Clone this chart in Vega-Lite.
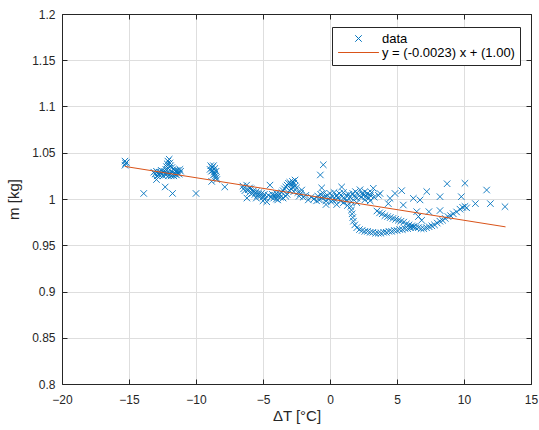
{
  "$schema": "https://vega.github.io/schema/vega-lite/v6.json",
  "width": 469,
  "height": 370,
  "autosize": {"type": "none"},
  "padding": {"left": 62, "top": 14, "right": 8, "bottom": 46},
  "background": "white",
  "config": {
    "view": {"stroke": null},
    "font": "Liberation Sans",
    "axis": {
      "domainColor": "#262626",
      "domainWidth": 1,
      "tickColor": "#262626",
      "tickWidth": 1,
      "tickSize": -5,
      "labelColor": "#262626",
      "titleColor": "#262626",
      "labelFont": "Liberation Sans",
      "titleFont": "Liberation Sans",
      "labelFontSize": 12,
      "titleFontSize": 15,
      "titleFontWeight": "normal",
      "gridColor": "#dedede",
      "gridWidth": 1,
      "labelFlush": false,
      "labelOverlap": false
    }
  },
  "layer": [
    {
      "data": {
        "values": [
          {"dT": -15.3, "m": 1.041, "series": "data"},
          {"dT": -15.25, "m": 1.0385, "series": "data"},
          {"dT": -15.3, "m": 1.0365, "series": "data"},
          {"dT": -15.2, "m": 1.0395, "series": "data"},
          {"dT": -13.9, "m": 1.006, "series": "data"},
          {"dT": -12.95, "m": 1.021, "series": "data"},
          {"dT": -12.3, "m": 1.013, "series": "data"},
          {"dT": -11.75, "m": 1.006, "series": "data"},
          {"dT": -10.0, "m": 1.006, "series": "data"},
          {"dT": -13.15, "m": 1.029, "series": "data"},
          {"dT": -13.05, "m": 1.027, "series": "data"},
          {"dT": -12.95, "m": 1.03, "series": "data"},
          {"dT": -12.85, "m": 1.028, "series": "data"},
          {"dT": -12.75, "m": 1.026, "series": "data"},
          {"dT": -12.65, "m": 1.029, "series": "data"},
          {"dT": -12.55, "m": 1.027, "series": "data"},
          {"dT": -12.45, "m": 1.025, "series": "data"},
          {"dT": -12.35, "m": 1.028, "series": "data"},
          {"dT": -12.25, "m": 1.026, "series": "data"},
          {"dT": -12.15, "m": 1.028, "series": "data"},
          {"dT": -12.05, "m": 1.025, "series": "data"},
          {"dT": -11.95, "m": 1.027, "series": "data"},
          {"dT": -11.85, "m": 1.025, "series": "data"},
          {"dT": -11.75, "m": 1.026, "series": "data"},
          {"dT": -11.65, "m": 1.025, "series": "data"},
          {"dT": -11.55, "m": 1.027, "series": "data"},
          {"dT": -11.45, "m": 1.026, "series": "data"},
          {"dT": -11.35, "m": 1.028, "series": "data"},
          {"dT": -11.25, "m": 1.027, "series": "data"},
          {"dT": -11.15, "m": 1.03, "series": "data"},
          {"dT": -11.2, "m": 1.032, "series": "data"},
          {"dT": -12.25, "m": 1.032, "series": "data"},
          {"dT": -12.2, "m": 1.035, "series": "data"},
          {"dT": -12.15, "m": 1.038, "series": "data"},
          {"dT": -12.1, "m": 1.041, "series": "data"},
          {"dT": -12.0, "m": 1.043, "series": "data"},
          {"dT": -11.95, "m": 1.039, "series": "data"},
          {"dT": -11.9, "m": 1.036, "series": "data"},
          {"dT": -11.8, "m": 1.034, "series": "data"},
          {"dT": -11.7, "m": 1.032, "series": "data"},
          {"dT": -11.6, "m": 1.031, "series": "data"},
          {"dT": -11.5, "m": 1.03, "series": "data"},
          {"dT": -12.05, "m": 1.033, "series": "data"},
          {"dT": -11.85, "m": 1.03, "series": "data"},
          {"dT": -12.6, "m": 1.031, "series": "data"},
          {"dT": -12.9, "m": 1.025, "series": "data"},
          {"dT": -12.4, "m": 1.03, "series": "data"},
          {"dT": -11.4, "m": 1.031, "series": "data"},
          {"dT": -8.9, "m": 1.036, "series": "data"},
          {"dT": -8.8, "m": 1.034, "series": "data"},
          {"dT": -8.7, "m": 1.036, "series": "data"},
          {"dT": -8.6, "m": 1.033, "series": "data"},
          {"dT": -8.75, "m": 1.031, "series": "data"},
          {"dT": -8.65, "m": 1.029, "series": "data"},
          {"dT": -8.6, "m": 1.027, "series": "data"},
          {"dT": -8.55, "m": 1.025, "series": "data"},
          {"dT": -8.5, "m": 1.023, "series": "data"},
          {"dT": -8.45, "m": 1.021, "series": "data"},
          {"dT": -8.7, "m": 1.026, "series": "data"},
          {"dT": -8.85, "m": 1.03, "series": "data"},
          {"dT": -8.83, "m": 1.019, "series": "data"},
          {"dT": -7.85, "m": 1.013, "series": "data"},
          {"dT": -8.95, "m": 1.032, "series": "data"},
          {"dT": -8.5, "m": 1.03, "series": "data"},
          {"dT": -6.5, "m": 1.014, "series": "data"},
          {"dT": -6.45, "m": 1.011, "series": "data"},
          {"dT": -6.35, "m": 1.009, "series": "data"},
          {"dT": -6.22, "m": 1.015, "series": "data"},
          {"dT": -6.2, "m": 1.001, "series": "data"},
          {"dT": -6.1, "m": 1.01, "series": "data"},
          {"dT": -6.0, "m": 1.007, "series": "data"},
          {"dT": -5.9, "m": 1.011, "series": "data"},
          {"dT": -5.8, "m": 1.006, "series": "data"},
          {"dT": -5.7, "m": 1.009, "series": "data"},
          {"dT": -5.6, "m": 1.005, "series": "data"},
          {"dT": -5.5, "m": 1.008, "series": "data"},
          {"dT": -5.4, "m": 1.004, "series": "data"},
          {"dT": -5.3, "m": 1.007, "series": "data"},
          {"dT": -5.2, "m": 1.003, "series": "data"},
          {"dT": -5.1, "m": 1.006, "series": "data"},
          {"dT": -5.0, "m": 1.002, "series": "data"},
          {"dT": -4.9, "m": 1.005, "series": "data"},
          {"dT": -4.8, "m": 1.001, "series": "data"},
          {"dT": -4.72, "m": 0.997, "series": "data"},
          {"dT": -4.6, "m": 1.004, "series": "data"},
          {"dT": -4.48, "m": 1.015, "series": "data"},
          {"dT": -4.4, "m": 1.002, "series": "data"},
          {"dT": -4.3, "m": 1.005, "series": "data"},
          {"dT": -4.2, "m": 1.001, "series": "data"},
          {"dT": -4.1, "m": 1.004, "series": "data"},
          {"dT": -4.0, "m": 1.0, "series": "data"},
          {"dT": -3.9, "m": 1.003, "series": "data"},
          {"dT": -3.8, "m": 1.006, "series": "data"},
          {"dT": -3.7, "m": 1.002, "series": "data"},
          {"dT": -3.6, "m": 1.007, "series": "data"},
          {"dT": -3.5, "m": 1.009, "series": "data"},
          {"dT": -3.4, "m": 1.011, "series": "data"},
          {"dT": -3.3, "m": 1.013, "series": "data"},
          {"dT": -3.2, "m": 1.015, "series": "data"},
          {"dT": -3.1, "m": 1.017, "series": "data"},
          {"dT": -3.0, "m": 1.018, "series": "data"},
          {"dT": -2.9, "m": 1.016, "series": "data"},
          {"dT": -2.8, "m": 1.019, "series": "data"},
          {"dT": -2.7, "m": 1.017, "series": "data"},
          {"dT": -2.61, "m": 1.0205, "series": "data"},
          {"dT": -2.6, "m": 1.014, "series": "data"},
          {"dT": -3.0, "m": 1.009, "series": "data"},
          {"dT": -3.2, "m": 1.005, "series": "data"},
          {"dT": -2.9, "m": 1.011, "series": "data"},
          {"dT": -2.8, "m": 1.013, "series": "data"},
          {"dT": -2.7, "m": 1.008, "series": "data"},
          {"dT": -2.5, "m": 1.012, "series": "data"},
          {"dT": -2.4, "m": 1.007, "series": "data"},
          {"dT": -2.3, "m": 1.003, "series": "data"},
          {"dT": -2.2, "m": 1.006, "series": "data"},
          {"dT": -2.11, "m": 1.0097, "series": "data"},
          {"dT": -2.0, "m": 1.002, "series": "data"},
          {"dT": -1.8, "m": 1.004, "series": "data"},
          {"dT": -1.62, "m": 0.999, "series": "data"},
          {"dT": -1.4, "m": 1.002, "series": "data"},
          {"dT": -1.2, "m": 1.0, "series": "data"},
          {"dT": -1.0, "m": 0.998, "series": "data"},
          {"dT": -3.5, "m": 1.001, "series": "data"},
          {"dT": -3.9, "m": 0.999, "series": "data"},
          {"dT": -3.3, "m": 1.003, "series": "data"},
          {"dT": -5.5, "m": 1.001, "series": "data"},
          {"dT": -5.0, "m": 0.998, "series": "data"},
          {"dT": -4.0, "m": 1.006, "series": "data"},
          {"dT": -6.0, "m": 1.012, "series": "data"},
          {"dT": -0.5, "m": 1.037, "series": "data"},
          {"dT": -0.72, "m": 1.026, "series": "data"},
          {"dT": -0.62, "m": 1.012, "series": "data"},
          {"dT": -0.9, "m": 1.003, "series": "data"},
          {"dT": -0.8, "m": 0.999, "series": "data"},
          {"dT": -0.7, "m": 1.005, "series": "data"},
          {"dT": -0.6, "m": 1.001, "series": "data"},
          {"dT": -0.5, "m": 1.006, "series": "data"},
          {"dT": -0.4, "m": 1.002, "series": "data"},
          {"dT": -0.3, "m": 0.998, "series": "data"},
          {"dT": -0.2, "m": 1.004, "series": "data"},
          {"dT": -0.1, "m": 1.0, "series": "data"},
          {"dT": 0.0, "m": 1.006, "series": "data"},
          {"dT": 0.1, "m": 0.997, "series": "data"},
          {"dT": 0.2, "m": 1.003, "series": "data"},
          {"dT": 0.3, "m": 1.007, "series": "data"},
          {"dT": 0.4, "m": 0.999, "series": "data"},
          {"dT": 0.5, "m": 1.004, "series": "data"},
          {"dT": 0.6, "m": 1.001, "series": "data"},
          {"dT": 0.7, "m": 1.006, "series": "data"},
          {"dT": 0.8, "m": 0.998, "series": "data"},
          {"dT": 0.87, "m": 1.013, "series": "data"},
          {"dT": 0.9, "m": 1.003, "series": "data"},
          {"dT": 1.0, "m": 1.007, "series": "data"},
          {"dT": 1.1, "m": 1.0, "series": "data"},
          {"dT": 1.2, "m": 1.004, "series": "data"},
          {"dT": 1.3, "m": 0.998, "series": "data"},
          {"dT": 1.4, "m": 1.005, "series": "data"},
          {"dT": 1.5, "m": 1.002, "series": "data"},
          {"dT": 1.6, "m": 0.997, "series": "data"},
          {"dT": 1.7, "m": 1.006, "series": "data"},
          {"dT": 1.8, "m": 1.003, "series": "data"},
          {"dT": 1.9, "m": 1.008, "series": "data"},
          {"dT": 2.0, "m": 1.001, "series": "data"},
          {"dT": 2.1, "m": 1.005, "series": "data"},
          {"dT": 2.24, "m": 1.01, "series": "data"},
          {"dT": 2.3, "m": 1.002, "series": "data"},
          {"dT": 2.4, "m": 1.006, "series": "data"},
          {"dT": 2.5, "m": 1.004, "series": "data"},
          {"dT": 2.6, "m": 1.008, "series": "data"},
          {"dT": 2.7, "m": 1.003, "series": "data"},
          {"dT": 2.8, "m": 1.006, "series": "data"},
          {"dT": 2.9, "m": 1.001, "series": "data"},
          {"dT": 3.0, "m": 1.004, "series": "data"},
          {"dT": 3.1, "m": 1.007, "series": "data"},
          {"dT": 3.23, "m": 1.0116, "series": "data"},
          {"dT": 3.3, "m": 1.002, "series": "data"},
          {"dT": 3.61, "m": 1.004, "series": "data"},
          {"dT": 1.3, "m": 0.993, "series": "data"},
          {"dT": 0.5, "m": 0.994, "series": "data"},
          {"dT": -0.3, "m": 0.994, "series": "data"},
          {"dT": 2.0, "m": 0.996, "series": "data"},
          {"dT": 0.2, "m": 0.999, "series": "data"},
          {"dT": 1.0, "m": 0.996, "series": "data"},
          {"dT": 2.6, "m": 0.999, "series": "data"},
          {"dT": 3.0, "m": 0.998, "series": "data"},
          {"dT": 1.55, "m": 0.992, "series": "data"},
          {"dT": 1.6, "m": 0.988, "series": "data"},
          {"dT": 1.65, "m": 0.984, "series": "data"},
          {"dT": 1.7, "m": 0.98, "series": "data"},
          {"dT": 1.75, "m": 0.976, "series": "data"},
          {"dT": 1.85, "m": 0.972, "series": "data"},
          {"dT": 2.0, "m": 0.969, "series": "data"},
          {"dT": 2.2, "m": 0.967, "series": "data"},
          {"dT": 2.4, "m": 0.966, "series": "data"},
          {"dT": 2.6, "m": 0.965, "series": "data"},
          {"dT": 2.8, "m": 0.965, "series": "data"},
          {"dT": 3.0, "m": 0.964, "series": "data"},
          {"dT": 3.2, "m": 0.964, "series": "data"},
          {"dT": 3.4, "m": 0.963, "series": "data"},
          {"dT": 3.6, "m": 0.963, "series": "data"},
          {"dT": 3.8, "m": 0.963, "series": "data"},
          {"dT": 4.0, "m": 0.964, "series": "data"},
          {"dT": 4.2, "m": 0.964, "series": "data"},
          {"dT": 4.4, "m": 0.965, "series": "data"},
          {"dT": 4.6, "m": 0.965, "series": "data"},
          {"dT": 4.8, "m": 0.966, "series": "data"},
          {"dT": 5.0, "m": 0.966, "series": "data"},
          {"dT": 5.2, "m": 0.967, "series": "data"},
          {"dT": 5.4, "m": 0.967, "series": "data"},
          {"dT": 5.6, "m": 0.968, "series": "data"},
          {"dT": 5.8, "m": 0.968, "series": "data"},
          {"dT": 6.0, "m": 0.969, "series": "data"},
          {"dT": 6.2, "m": 0.97, "series": "data"},
          {"dT": 6.4, "m": 0.969, "series": "data"},
          {"dT": 6.6, "m": 0.969, "series": "data"},
          {"dT": 6.8, "m": 0.968, "series": "data"},
          {"dT": 7.0, "m": 0.968, "series": "data"},
          {"dT": 7.2, "m": 0.969, "series": "data"},
          {"dT": 7.4, "m": 0.97, "series": "data"},
          {"dT": 7.6, "m": 0.971, "series": "data"},
          {"dT": 7.8, "m": 0.972, "series": "data"},
          {"dT": 8.0, "m": 0.974, "series": "data"},
          {"dT": 8.2, "m": 0.976, "series": "data"},
          {"dT": 8.4, "m": 0.977, "series": "data"},
          {"dT": 8.6, "m": 0.979, "series": "data"},
          {"dT": 8.8, "m": 0.981, "series": "data"},
          {"dT": 9.0, "m": 0.982, "series": "data"},
          {"dT": 9.2, "m": 0.984, "series": "data"},
          {"dT": 9.45, "m": 0.986, "series": "data"},
          {"dT": 9.7, "m": 0.989, "series": "data"},
          {"dT": 9.9, "m": 0.991, "series": "data"},
          {"dT": 10.07, "m": 0.992, "series": "data"},
          {"dT": 3.5, "m": 0.987, "series": "data"},
          {"dT": 3.7, "m": 0.985, "series": "data"},
          {"dT": 3.9, "m": 0.984, "series": "data"},
          {"dT": 4.1, "m": 0.982, "series": "data"},
          {"dT": 4.3, "m": 0.981, "series": "data"},
          {"dT": 4.5, "m": 0.98, "series": "data"},
          {"dT": 4.7, "m": 0.979, "series": "data"},
          {"dT": 4.9, "m": 0.978, "series": "data"},
          {"dT": 5.1, "m": 0.977, "series": "data"},
          {"dT": 5.3, "m": 0.976, "series": "data"},
          {"dT": 5.5, "m": 0.975, "series": "data"},
          {"dT": 5.7, "m": 0.973, "series": "data"},
          {"dT": 5.9, "m": 0.972, "series": "data"},
          {"dT": 6.1, "m": 0.971, "series": "data"},
          {"dT": 6.3, "m": 0.97, "series": "data"},
          {"dT": 3.73, "m": 1.006, "series": "data"},
          {"dT": 4.48, "m": 1.0007, "series": "data"},
          {"dT": 4.35, "m": 0.995, "series": "data"},
          {"dT": 4.85, "m": 1.006, "series": "data"},
          {"dT": 5.35, "m": 1.009, "series": "data"},
          {"dT": 5.47, "m": 0.9935, "series": "data"},
          {"dT": 6.22, "m": 1.0007, "series": "data"},
          {"dT": 6.72, "m": 0.999, "series": "data"},
          {"dT": 7.22, "m": 1.008, "series": "data"},
          {"dT": 8.21, "m": 1.0025, "series": "data"},
          {"dT": 8.74, "m": 1.0165, "series": "data"},
          {"dT": 10.07, "m": 1.017, "series": "data"},
          {"dT": 9.8, "m": 1.0025, "series": "data"},
          {"dT": 10.2, "m": 0.9905, "series": "data"},
          {"dT": 10.85, "m": 0.995, "series": "data"},
          {"dT": 11.69, "m": 1.0097, "series": "data"},
          {"dT": 11.97, "m": 0.995, "series": "data"},
          {"dT": 13.06, "m": 0.9917, "series": "data"},
          {"dT": 6.47, "m": 0.9863, "series": "data"},
          {"dT": 6.6, "m": 0.981, "series": "data"},
          {"dT": 6.84, "m": 0.977, "series": "data"},
          {"dT": 7.38, "m": 0.9863, "series": "data"},
          {"dT": 8.21, "m": 0.9875, "series": "data"}
        ]
      },
      "mark": {"type": "point", "filled": false, "size": 42, "strokeWidth": 0.9, "opacity": 1},
      "encoding": {
        "x": {
          "field": "dT", "type": "quantitative",
          "scale": {"domain": [-20, 15], "nice": false, "zero": false},
          "axis": {"orient": "bottom", "title": "ΔT [°C]", "values": [-20, -15, -10, -5, 0, 5, 10, 15], "grid": true, "labelPadding": 15, "titlePadding": 3}
        },
        "y": {
          "field": "m", "type": "quantitative",
          "scale": {"domain": [0.8, 1.2], "nice": false, "zero": false},
          "axis": {"orient": "left", "title": "m [kg]", "values": [0.8, 0.85, 0.9, 0.95, 1, 1.05, 1.1, 1.15, 1.2], "format": "~g", "grid": true, "labelPadding": 12, "titlePadding": 10}
        },
        "color": {
          "field": "series", "type": "nominal",
          "scale": {"domain": ["data", "y = (-0.0023) x + (1.00)"], "range": ["#0072BD", "#D95319"]},
          "legend": {"title": null, "orient": "none", "legendX": 270, "legendY": 13, "padding": 5, "strokeColor": "#262626", "fillColor": "white", "labelFont": "Liberation Sans", "labelFontSize": 13, "labelColor": "#000000", "symbolSize": 42, "symbolStrokeWidth": 1, "symbolOffset": 15, "labelOffset": 17, "rowPadding": 0, "cornerRadius": 0}
        },
        "shape": {
          "field": "series", "type": "nominal",
          "scale": {"domain": ["data", "y = (-0.0023) x + (1.00)"], "range": ["M-1,-1L1,1M-1,1L1,-1", "M-6.3,0L6.3,0"]},
          "legend": {"title": null, "orient": "none", "legendX": 270, "legendY": 13, "padding": 5, "strokeColor": "#262626", "fillColor": "white", "labelFont": "Liberation Sans", "labelFontSize": 13, "labelColor": "#000000", "symbolSize": 42, "symbolStrokeWidth": 1, "symbolOffset": 15, "labelOffset": 17, "rowPadding": 0, "cornerRadius": 0}
        }
      }
    },
    {
      "data": {"values": [{"dT": -15.3, "m": 1.03519}, {"dT": 13.1, "m": 0.96987}]},
      "mark": {"type": "line", "color": "#D95319", "strokeWidth": 1},
      "encoding": {
        "x": {
          "field": "dT", "type": "quantitative",
          "axis": {"orient": "top", "title": null, "labels": false, "grid": false, "values": [-20, -15, -10, -5, 0, 5, 10, 15]}
        },
        "y": {
          "field": "m", "type": "quantitative",
          "axis": {"orient": "right", "title": null, "labels": false, "grid": false, "values": [0.8, 0.85, 0.9, 0.95, 1, 1.05, 1.1, 1.15, 1.2]}
        }
      }
    }
  ],
  "resolve": {"axis": {"x": "independent", "y": "independent"}}
}
